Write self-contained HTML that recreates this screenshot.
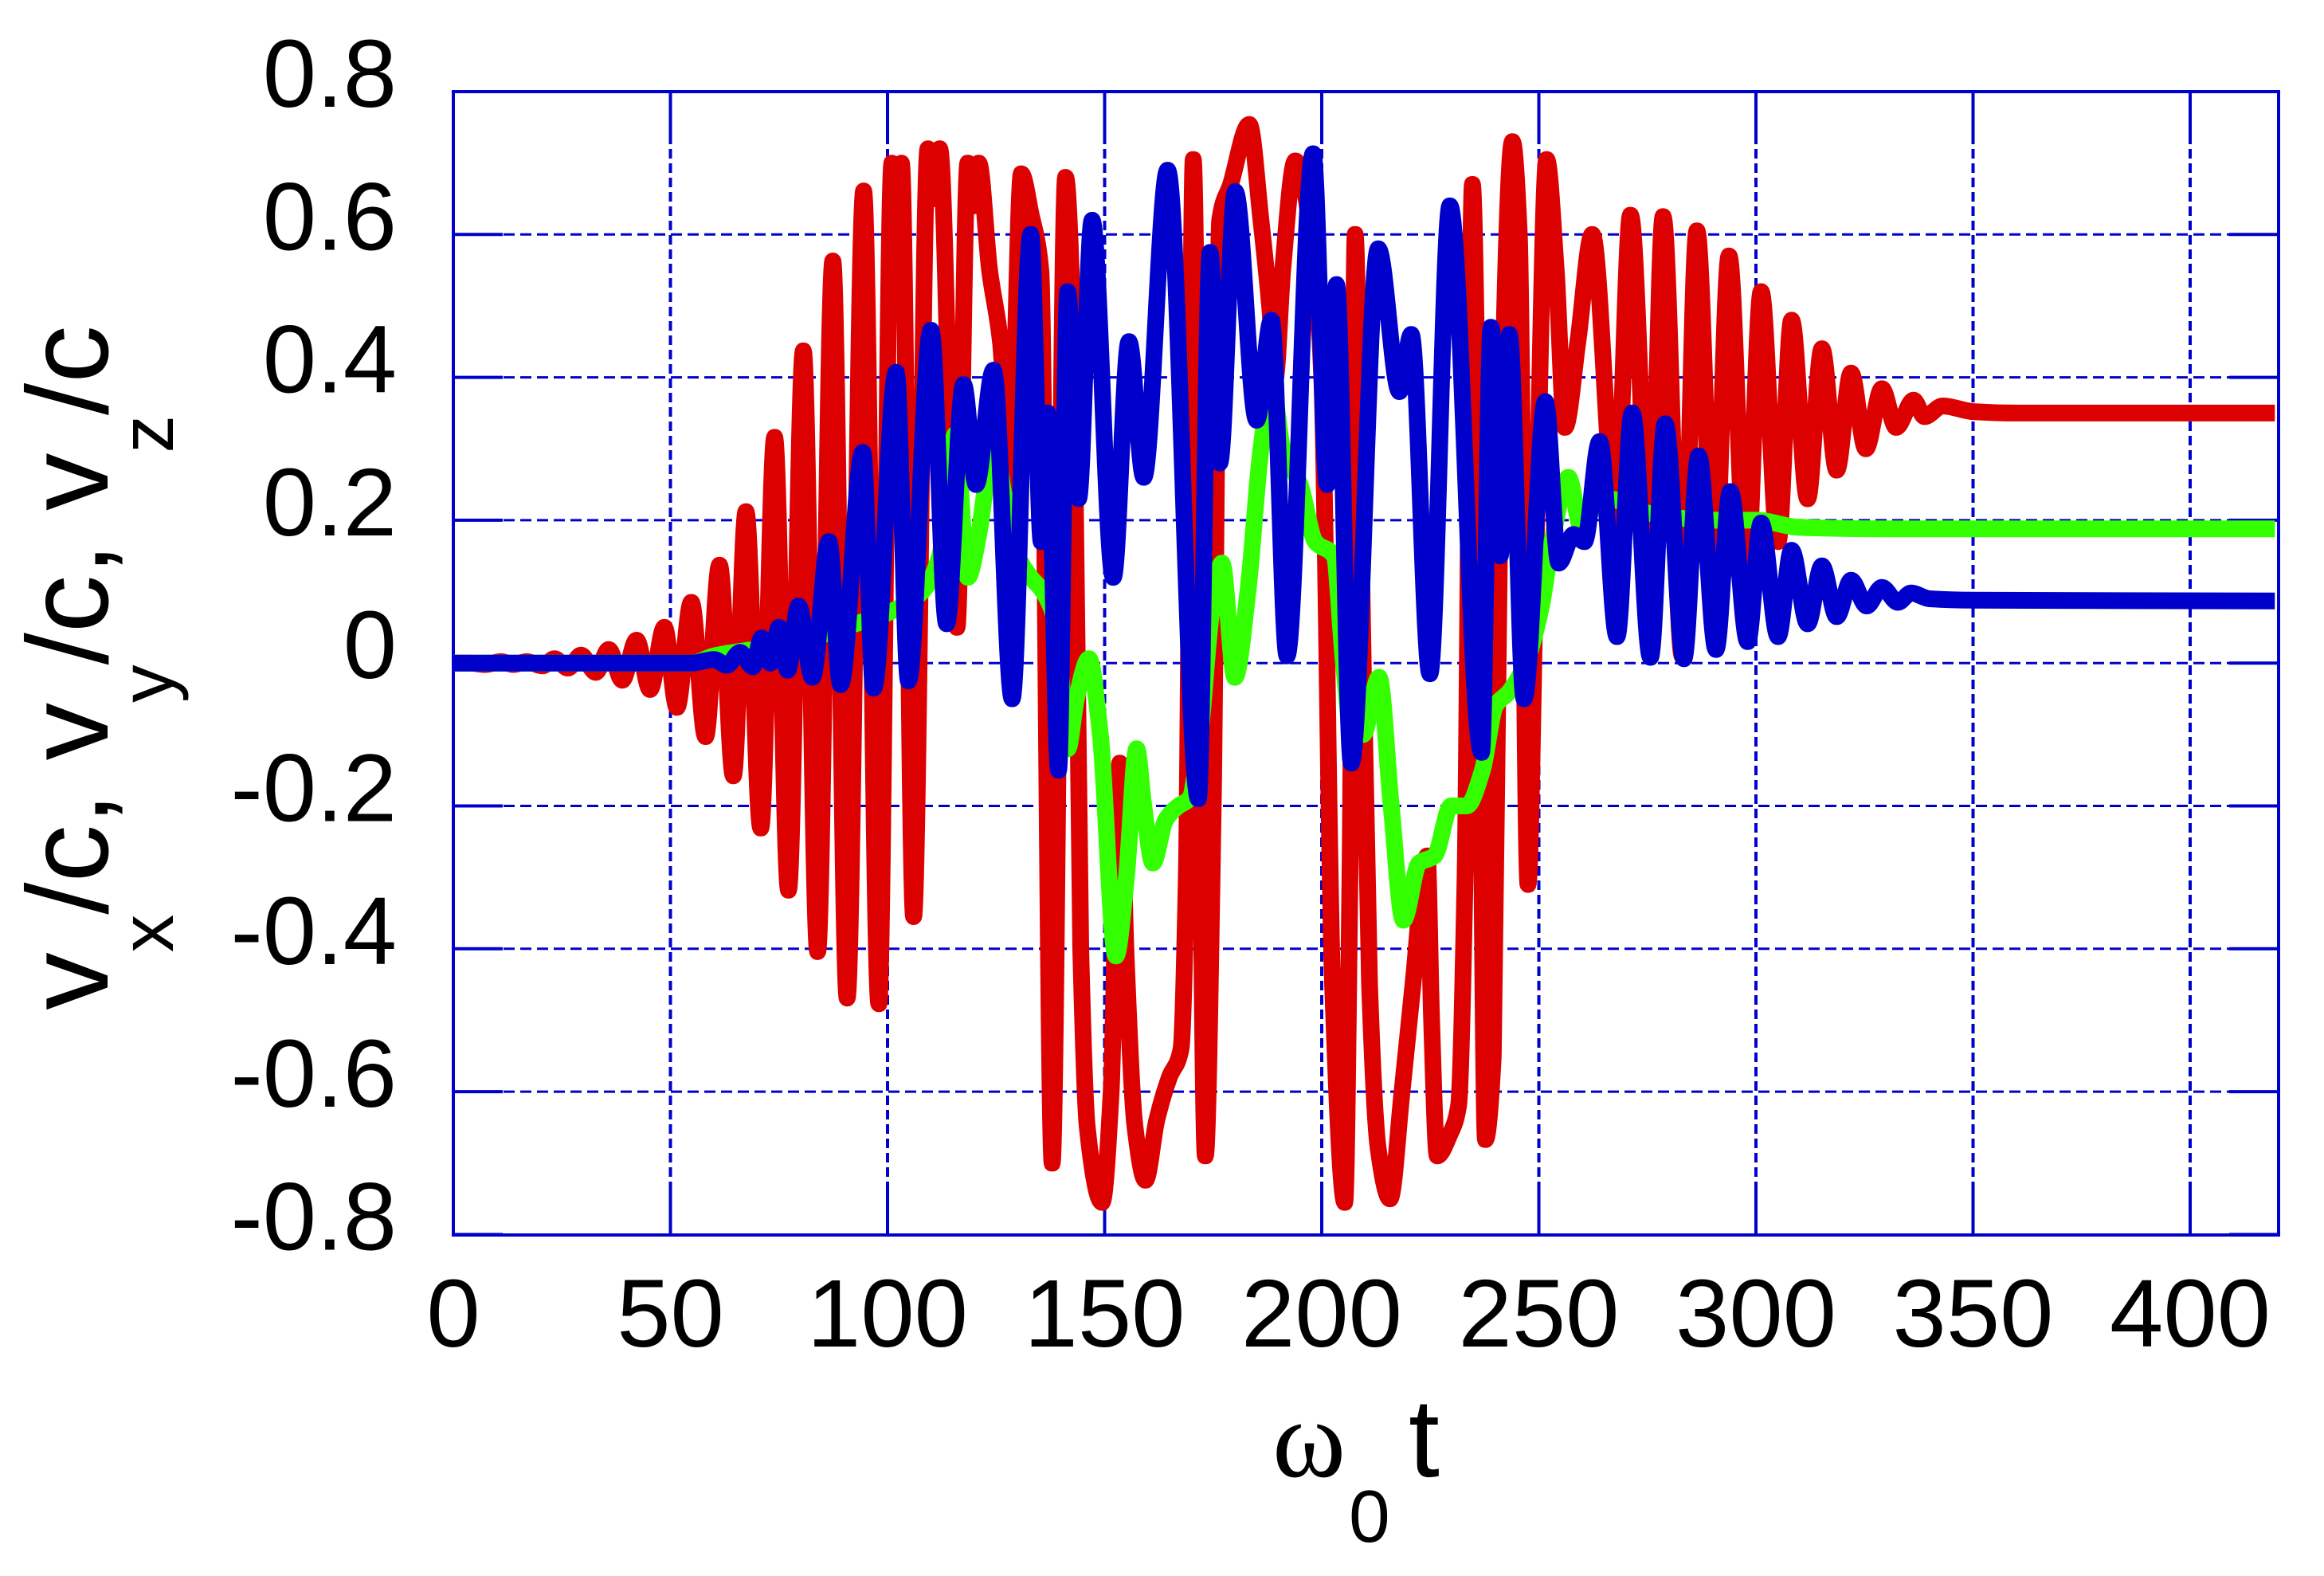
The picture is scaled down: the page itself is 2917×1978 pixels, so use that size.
<!DOCTYPE html>
<html><head><meta charset="utf-8"><style>
html,body{margin:0;padding:0;background:#fff;}
svg{display:block;}
text{font-family:"Liberation Sans",sans-serif;fill:#000;}
</style></head><body>
<svg id="chart" width="2917" height="1978" viewBox="0 0 2917 1978" xmlns="http://www.w3.org/2000/svg">
<rect width="2917" height="1978" fill="#fff"/>
<g id="grid"></g>
<g id="frame"></g>
<g id="series"></g>
<g id="labels"></g>
<text transform="translate(135,838) rotate(-90)" text-anchor="middle" font-size="145">v<tspan font-size="95" dy="82">x</tspan><tspan dy="-82">/c, v</tspan><tspan font-size="95" dy="82">y</tspan><tspan dy="-82">/c, v</tspan><tspan font-size="95" dy="82">z</tspan><tspan dy="-82">/c</tspan></text>
<text x="1597" y="1853" font-size="140" style="font-family:'Liberation Serif',serif">ω</text>
<text x="1693" y="1935" font-size="93">0</text>
<text x="1768" y="1853" font-size="140">t</text>
</svg>
<script>
const xTicks = [0,50,100,150,200,250,300,350,400];
const yTicks = [0.8,0.6,0.4,0.2,0,-0.2,-0.4,-0.6,-0.8];
const yTickLabels = ["0.8","0.6","0.4","0.2","0","-0.2","-0.4","-0.6","-0.8"];
const xTickLabels = ["0","50","100","150","200","250","300","350","400"];

const vxT = [0,4,7.3,11,13.8,16.9,20.5,23.3,26.4,29.4,32.8,35.8,38.9,42.2,45.3,48.6,51.5,54.8,58.1,61.3,64.5,67.4,70.8,74.0,77.2,80.6,83.9,87.4,90.7,94.5,98.0,101.0,102.0,103.2,106.0,109.3,110.6,112,116,118.5,119.8,121,123.5,126,128.3,130.8,133,135.3,137.9,141,142.8,144.5,146,149.4,151.5,153.5,155,157,159.4,162,164.9,167.6,168.8,170.4,173.2,175,176.5,179,183.3,186,188,189.3,191,193.9,198,200,202.5,205.3,206.5,207.7,209,211,213,215.7,218.5,221,224.3,225.3,226.6,229.5,231.5,233,234.7,236,237.7,239.5,241,243.9,245.5,247.5,249.5,251.8,254,256,259,262.3,267.8,271.1,275.7,278.6,283,286.4,290.4,293.8,297.8,301.2,305.1,308.2,311.9,315.2,318.6,321.9,325.3,329,332.3,336.3,338.8,343,350,360,419.5];
const vxV = [0,0,-0.002,0.002,-0.002,0.002,-0.004,0.006,-0.007,0.011,-0.013,0.019,-0.024,0.032,-0.037,0.05,-0.062,0.085,-0.103,0.137,-0.158,0.212,-0.231,0.316,-0.318,0.437,-0.404,0.563,-0.469,0.661,-0.477,0.70,0.62,0.70,-0.355,0.72,0.65,0.72,0.05,0.70,0.64,0.70,0.55,0.45,0.25,0.685,0.63,0.55,-0.70,0.68,0.45,-0.40,-0.65,-0.755,-0.6,-0.14,-0.42,-0.65,-0.724,-0.64,-0.58,-0.54,-0.3,0.705,-0.69,-0.2,0.62,0.67,0.754,0.62,0.5,0.40,0.55,0.703,0.58,0.4,-0.45,-0.755,-0.3,0.60,0.2,-0.45,-0.68,-0.75,-0.6,-0.45,-0.27,-0.5,-0.69,-0.66,-0.62,-0.3,0.67,0.3,-0.667,-0.55,0.2,0.73,0.6,-0.31,0.2,0.705,0.55,0.33,0.45,0.6,0.2,0.627,0.136,0.625,0.01,0.605,0.11,0.57,0.12,0.52,0.17,0.48,0.23,0.44,0.27,0.406,0.30,0.384,0.33,0.368,0.345,0.36,0.352,0.35,0.35];

const vyT = [0,55,60,70,80,90,100,108,112,115.6,118.5,121,124.4,127,130,133,135.8,139,141.5,143.5,146.4,149,152.6,155,157.4,159,161.1,164,167,169.5,172,174.6,177,180,183,186,188.5,191,195,198.5,202.8,205,207,209.5,213.2,216,218.8,222.4,226,229.8,233.4,237,240,243.2,247,250.6,253,256.8,259.8,263,266,275,290,300,310,330,419.5];
const vyV = [0,0,0.01,0.02,0.03,0.05,0.07,0.1,0.15,0.32,0.12,0.18,0.31,0.23,0.15,0.12,0.1,0.05,-0.12,-0.05,0.006,-0.1,-0.41,-0.3,-0.12,-0.2,-0.28,-0.22,-0.2,-0.19,-0.1,0.07,0.14,-0.02,0.1,0.3,0.39,0.3,0.25,0.17,0.15,0.0,-0.1,-0.1,-0.02,-0.2,-0.36,-0.28,-0.27,-0.2,-0.2,-0.15,-0.06,-0.04,0.0,0.08,0.17,0.26,0.19,0.22,0.23,0.21,0.2,0.2,0.19,0.188,0.188];

const vzT = [0,55,60,63,66,69,71,73,75,77,79.5,82.7,86.5,89.2,94.3,96.8,102,104.8,110,113.6,117.5,120.4,124.4,128.7,133,135.4,136.9,139.4,141.5,144,147.1,152,155.6,159,164.5,171.6,174.3,176.5,180.1,185,188.4,192,198,201.3,203.4,206.8,213,217.9,220.6,224.9,229.5,236.8,239,241.1,243.2,246.6,251.5,254.6,258,260.5,264,268,271.5,275.7,279.1,283.4,286.8,290.8,294.1,298.1,301.2,305.1,308.2,311.9,315.2,318.6,321.9,325.5,329,332.7,335.7,340,350,419.5];
const vzV = [0,0,0.005,-0.003,0.015,-0.005,0.035,0.0,0.05,-0.01,0.08,-0.02,0.17,-0.03,0.295,-0.035,0.407,-0.025,0.466,0.055,0.39,0.25,0.41,-0.05,0.6,0.17,0.35,-0.15,0.52,0.23,0.62,0.12,0.45,0.26,0.69,-0.19,0.575,0.28,0.66,0.34,0.48,0.01,0.713,0.25,0.53,-0.14,0.58,0.38,0.46,-0.015,0.64,-0.125,0.47,0.15,0.46,-0.05,0.366,0.14,0.18,0.17,0.31,0.037,0.35,0.008,0.335,0.006,0.29,0.019,0.24,0.03,0.196,0.037,0.158,0.055,0.136,0.065,0.116,0.08,0.106,0.085,0.098,0.09,0.088,0.087];

const NS = "http://www.w3.org/2000/svg";
const L = 569, R = 2860, T = 115, B = 1550;
function X(t){ return L + t * 5.45; }
function Y(v){ return T + (0.8 - v) * 896.5; }

function mk(tag, parent, attrs){
  const e = document.createElementNS(NS, tag);
  for (const k in attrs) e.setAttribute(k, attrs[k]);
  parent.appendChild(e);
  return e;
}

const grid = document.getElementById('grid');
const frame = document.getElementById('frame');
const labels = document.getElementById('labels');
const series = document.getElementById('series');
const BLUE = "#0000cc";

yTicks.forEach((v, i) => {
  const y = Y(v);
  if (i > 0 && i < yTicks.length - 1) {
    const g = mk('line', grid, {x1: L, x2: R, y1: y, y2: y, stroke: BLUE, 'stroke-width': 3, 'stroke-dasharray': '14 7'});
    
    
  }
  const t1 = mk('line', frame, {x1: L, x2: L + 62, y1: y, y2: y, stroke: BLUE, 'stroke-width': 4});
  
  
  const t2 = mk('line', frame, {x1: R - 62, x2: R, y1: y, y2: y, stroke: BLUE, 'stroke-width': 4});
  
  
  const lb = mk('text', labels, {x: 498, y: y + 19, 'text-anchor': 'end', 'font-size': 121});
  lb.textContent = yTickLabels[i];
  
  
});

xTicks.forEach((t, i) => {
  const x = X(t);
  if (i > 0) {
    const g = mk('line', grid, {x1: x, x2: x, y1: T, y2: B, stroke: BLUE, 'stroke-width': 4, 'stroke-dasharray': '12 6'});
    
    
  }
  const t1 = mk('line', frame, {x1: x, x2: x, y1: B, y2: B - 62, stroke: BLUE, 'stroke-width': 4});
  
  
  const t2 = mk('line', frame, {x1: x, x2: x, y1: T, y2: T + 62, stroke: BLUE, 'stroke-width': 4});
  
  
  const lb = mk('text', labels, {x: x, y: 1690, 'text-anchor': 'middle', 'font-size': 121});
  lb.textContent = xTickLabels[i];
  
  
});

const box = mk('rect', frame, {x: L, y: T, width: R - L, height: B - T, fill: 'none', stroke: BLUE, 'stroke-width': 4});



function monoPath(ts, vs){
  const xs = ts.map(X), ys = vs.map(Y), n = xs.length;
  const d = [], m = new Array(n);
  for (let i = 0; i < n - 1; i++) d.push((ys[i+1] - ys[i]) / (xs[i+1] - xs[i]));
  m[0] = d[0]; m[n-1] = d[n-2];
  for (let i = 1; i < n - 1; i++) {
    if (d[i-1] * d[i] <= 0) m[i] = 0;
    else {
      const w1 = 2 * (xs[i+1] - xs[i]) + (xs[i] - xs[i-1]);
      const w2 = (xs[i+1] - xs[i]) + 2 * (xs[i] - xs[i-1]);
      m[i] = (w1 + w2) / (w1 / d[i-1] + w2 / d[i]);
    }
  }
  let p = 'M' + xs[0].toFixed(1) + ',' + ys[0].toFixed(1);
  for (let i = 0; i < n - 1; i++) {
    const h = (xs[i+1] - xs[i]) / 3;
    p += ' C' + (xs[i] + h).toFixed(1) + ',' + (ys[i] + m[i] * h).toFixed(1) + ' ' +
         (xs[i+1] - h).toFixed(1) + ',' + (ys[i+1] - m[i+1] * h).toFixed(1) + ' ' +
         xs[i+1].toFixed(1) + ',' + ys[i+1].toFixed(1);
  }
  return p;
}

const red = mk('path', series, {d: monoPath(vxT, vxV), fill: 'none', stroke: '#dd0000', 'stroke-width': 21, 'stroke-linejoin': 'round'});


const green = mk('path', series, {d: monoPath(vyT, vyV), fill: 'none', stroke: '#33ff00', 'stroke-width': 21, 'stroke-linejoin': 'round'});


const blue = mk('path', series, {d: monoPath(vzT, vzV), fill: 'none', stroke: '#0000cc', 'stroke-width': 21, 'stroke-linejoin': 'round'});


</script>
</body></html>
